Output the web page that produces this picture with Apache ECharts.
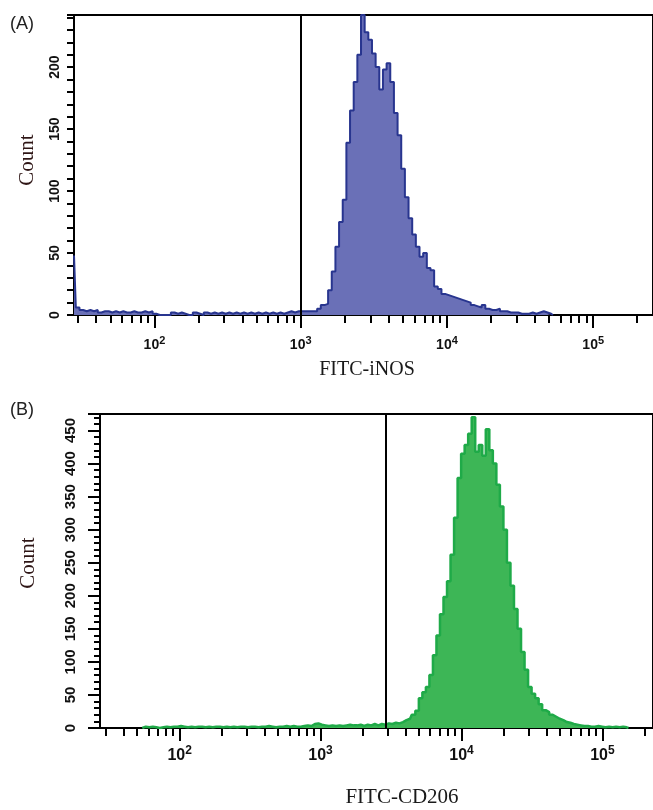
<!DOCTYPE html>
<html>
<head>
<meta charset="utf-8">
<script src="https://cdn.jsdelivr.net/npm/echarts@6/dist/echarts.min.js"></script>
<style>html,body{margin:0;padding:0;background:#fff}#c{width:653px;height:810px}</style>
</head>
<body>
<div id="c"></div>
<script>
// ---- Data (log10 fluorescence bins, counts) ----
const binStep = 0.025;               // bin width in decades
const aStart = 1.45;                 // log10 of first bin, panel A
const aCounts = [
  48,6,4,3,4,3,4,2,3,3,
  2,3,2,3,2,2,3,2,2,3,
  2,3,1,0,0,0,0,2,1,2,
  1,0,0,2,1,0,2,1,2,1,
  2,1,2,1,2,1,2,1,2,1,
  2,1,2,1,2,1,2,1,2,3,
  2,3,3,3,3,3,3,5,8,9,
  20,35,55,75,93,139,165,188,210,242,
  228,222,211,200,182,198,203,188,163,145,
  118,95,78,65,55,47,50,38,36,23,
  21,17,16,15,14,13,12,11,10,8,
  7,6,8,5,4,4,5,3,3,2,
  2,2,1,1,1,2,1,2,3,2,
  1,0
];
const bStart = 1.735;                // log10 of first bin, panel B
const bCounts = [
  0,2,1,2,1,0,1,2,1,2,
  2,3,2,1,2,1,2,2,1,2,
  1,2,2,1,2,1,2,1,2,2,
  1,2,2,1,2,2,3,2,1,2,
  2,3,2,3,2,2,3,4,3,6,
  7,5,4,3,4,3,4,3,4,5,
  4,4,5,3,5,4,6,4,6,5,
  7,6,8,7,9,12,14,20,26,45,
  54,62,80,110,140,172,198,222,262,318,
  378,415,428,445,470,418,428,412,452,420,
  400,368,335,300,250,215,180,150,115,88,
  62,52,45,36,27,24,20,17,14,12,
  9,8,6,5,4,3,3,2,2,3,
  2,1,2,1,2,1,2,1,0
];
const majorDecades = [2, 3, 4, 5];          // tick labels 10^2 .. 10^5
const minorMultipliers = [2,3,4,5,6,7,8,9];
const minorDecades = [1, 2, 3, 4, 5];
const gateA = 3.0;      // log10 gate position A
const gateB = 3.455;    // log10 gate position B
const xRangeA = [1.45, 5.409];
const xRangeB = [1.435, 5.359];
const yMaxA = 242, yMaxB = 475;

// ---- Build ----
function toPairs(start, counts) {
  return counts.map((c, i) => [start + i * binStep, c]);
}
const minorTicks = [];
minorDecades.forEach(d => minorMultipliers.forEach(m => minorTicks.push(Math.log10(m) + d)));

const chart = echarts.init(document.getElementById('c'), null, {renderer: 'canvas'});

function xAxes(gi, range, labelSize, supSize, margin) {
  return [
    {
      type: 'value', gridIndex: gi, min: range[0], max: range[1], position: 'bottom',
      axisLine: {show: true, onZero: false, lineStyle: {color: '#000', width: 2}},
      axisTick: {show: true, customValues: majorDecades, length: 13, inside: false, lineStyle: {color: '#000', width: 2}},
      axisLabel: {
        show: true, customValues: majorDecades, margin: margin,
        formatter: v => '{b|10}{s|' + Math.round(v) + '}',
        rich: {
          b: {fontSize: labelSize, fontWeight: 'bold', fontFamily: 'Liberation Sans', color: '#111'},
          s: {fontSize: supSize, fontWeight: 'bold', fontFamily: 'Liberation Sans', color: '#111', padding: [0, 0, 9, 0]}
        }
      },
      splitLine: {show: false}
    },
    {
      type: 'value', gridIndex: gi, min: range[0], max: range[1], position: 'bottom',
      axisLine: {show: false},
      axisTick: {show: true, customValues: minorTicks, length: 8, lineStyle: {color: '#000', width: 2}},
      axisLabel: {show: false},
      splitLine: {show: false}
    }
  ];
}

function yAxis(gi, max, majorLen, minorLen, labelSize, margin) {
  return {
    type: 'value', gridIndex: gi, min: 0, max: max, interval: 50,
    axisLine: {show: true, lineStyle: {color: '#000', width: 2}},
    axisTick: {show: true, length: majorLen, lineStyle: {color: '#000', width: 2}},
    minorTick: {show: true, splitNumber: 5, length: minorLen, lineStyle: {color: '#000', width: 2}},
    axisLabel: {
      show: true, rotate: 90, margin: margin, showMaxLabel: false,
      fontSize: labelSize, fontWeight: 'bold', fontFamily: 'Liberation Sans', color: '#111'
    },
    splitLine: {show: false}
  };
}

const option = {
  animation: false,
  backgroundColor: '#fff',
  grid: [
    {left: 74, top: 15, width: 582, height: 300, show: true, borderColor: '#000', borderWidth: 2, backgroundColor: 'transparent'},
    {left: 100, top: 414, width: 556, height: 314, show: true, borderColor: '#000', borderWidth: 2, backgroundColor: 'transparent'}
  ],
  xAxis: [].concat(xAxes(0, xRangeA, 14, 11, 20), xAxes(1, xRangeB, 16, 12, 17)),
  yAxis: [yAxis(0, yMaxA, 7, 7, 14, 12), yAxis(1, yMaxB, 12, 6, 15, 22)],
  series: [
    {
      type: 'line', xAxisIndex: 0, yAxisIndex: 0, step: 'middle', symbol: 'none',
      data: toPairs(aStart, aCounts),
      lineStyle: {color: '#28358f', width: 2},
      areaStyle: {color: '#6a70b7', opacity: 1},
      markLine: {silent: true, symbol: 'none', label: {show: false},
        lineStyle: {color: '#000', width: 2, type: 'solid'}, data: [{xAxis: gateA}]}
    },
    {
      type: 'line', xAxisIndex: 2, yAxisIndex: 1, step: 'middle', symbol: 'none',
      data: toPairs(bStart, bCounts),
      lineStyle: {color: '#1faa48', width: 2.5},
      areaStyle: {color: '#3db656', opacity: 1},
      markLine: {silent: true, symbol: 'none', label: {show: false},
        lineStyle: {color: '#000', width: 2, type: 'solid'}, data: [{xAxis: gateB}]}
    }
  ],
  graphic: [
    {type: 'text', x: 10, y: 24, style: {text: '(A)', font: '18px "Liberation Sans"', fill: '#222', textVerticalAlign: 'middle'}},
    {type: 'text', x: 10, y: 410, style: {text: '(B)', font: '18px "Liberation Sans"', fill: '#222', textVerticalAlign: 'middle'}},
    {type: 'text', x: 367, y: 370, style: {text: 'FITC-iNOS', font: '20px "Liberation Serif"', fill: '#1a1a1a', textAlign: 'center', textVerticalAlign: 'middle'}},
    {type: 'text', x: 402, y: 797, style: {text: 'FITC-CD206', font: '21px "Liberation Serif"', fill: '#1a1a1a', textAlign: 'center', textVerticalAlign: 'middle'}},
    {type: 'text', x: 27, y: 160, rotation: Math.PI / 2, style: {text: 'Count', font: '21px "Liberation Serif"', fill: '#2e1515', textAlign: 'center', textVerticalAlign: 'middle'}},
    {type: 'text', x: 28, y: 563, rotation: Math.PI / 2, style: {text: 'Count', font: '21px "Liberation Serif"', fill: '#2e1515', textAlign: 'center', textVerticalAlign: 'middle'}}
  ]
};
chart.setOption(option);
</script>
</body>
</html>
